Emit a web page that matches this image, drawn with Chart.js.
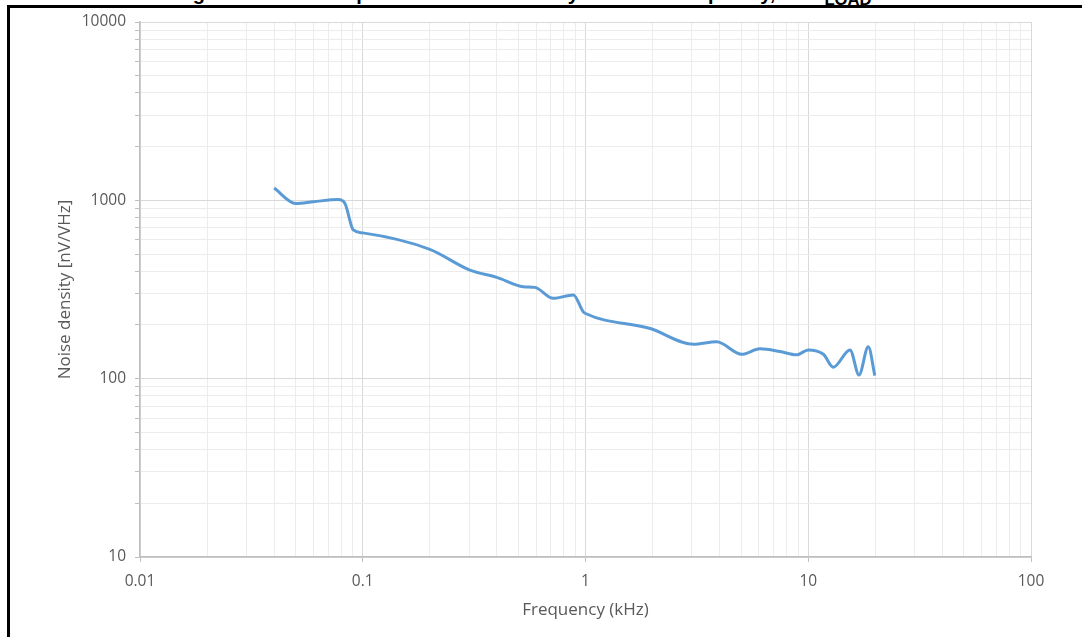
<!DOCTYPE html>
<html>
<head>
<meta charset="utf-8">
<script src="https://cdn.jsdelivr.net/npm/chart.js@4.4.1/dist/chart.umd.min.js"></script>
<style>
  html, body { margin: 0; padding: 0; background: #fff; }
  body { width: 1082px; height: 637px; position: relative; overflow: hidden; }
  #cut { position: absolute; left: 0; top: 0; width: 1082px; height: 5px; overflow: hidden; }
  #cut span { position: absolute; left: 175px; top: -18px; font: bold 20px "Liberation Sans", Arial, sans-serif; word-spacing: 29px; color: #000; white-space: nowrap; }
  #frame { position: absolute; left: 7px; top: 5px; width: 1100px; height: 700px; border-left: 3px solid #000; border-top: 3px solid #000; pointer-events: none; }
  #wrap { position: absolute; left: 0; top: 0; width: 1082px; height: 637px; }
  canvas { display: block; }
</style>
</head>
<body>
<div id="cut"><span>Figure 8. Output noise density vs. frequency, R<sub>LOAD</sub></span></div>
<div id="wrap"><canvas id="noiseChart" width="1082" height="637"></canvas></div>
<div id="frame"></div>
<script>
// dados (kHz, nV/√Hz)
const freqKHz = [0.040, 0.050, 0.060, 0.0777, 0.0832, 0.0907, 0.10, 0.20, 0.303, 0.40, 0.526, 0.593, 0.717, 0.882, 0.977, 1.0, 1.95, 3.05, 3.88, 5.02, 6.07, 7.46, 8.87, 10.0, 11.7, 12.96, 15.4, 16.9, 18.6, 19.9];
const noiseDensity = [1172, 961, 982, 1010, 961, 682, 657, 531, 406, 370, 328, 325, 282, 295, 237, 232, 191, 156, 161, 137, 147, 142, 136, 145, 137, 116, 145, 105, 151, 104];

const xMajorTicks = [0.01, 0.1, 1, 10, 100];
const xTickLabels = ['0.01', '0.1', '1', '10', '100'];
const yMajorTicks = [10, 100, 1000, 10000];
const yTickLabels = ['10', '100', '1000', '10000'];
const minorSteps = [2, 3, 4, 5, 6, 7, 8, 9];

// monta a lista de ticks (década + subdivisões)
function logTicks(majors) {
    const ticks = [];
    majors.forEach((m, i) => {
        ticks.push({ value: m, major: true });
        if (i < majors.length - 1) {
            minorSteps.forEach(s => ticks.push({ value: m * s, major: false }));
        }
    });
    return ticks;
}

function labelFor(value, majors, labels) {
    const idx = majors.findIndex(m => Math.abs(m - value) / m < 1e-6);
    return idx >= 0 ? labels[idx] : '';
}

const tickFont = { family: "'Open Sans', 'Liberation Sans', sans-serif", size: 15.5 };
const titleFont = { family: "'Open Sans', 'Liberation Sans', sans-serif", size: 17 };
const textColor = '#595959';

const points = freqKHz.map((f, i) => ({ x: f, y: noiseDensity[i] }));

new Chart(document.getElementById('noiseChart'), {
    type: 'line',
    data: {
        datasets: [{
            data: points,
            borderColor: '#5b9bd5',
            borderWidth: 3,
            pointRadius: 0,
            fill: false,
            cubicInterpolationMode: 'monotone'
        }]
    },
    options: {
        responsive: false,
        animation: false,
        layout: { padding: { left: 51, right: 51, top: 22, bottom: 0 } },
        plugins: { legend: { display: false }, tooltip: { enabled: false } },
        scales: {
            x: {
                type: 'logarithmic',
                min: 0.01,
                max: 100,
                afterBuildTicks: scale => { scale.ticks = logTicks(xMajorTicks); },
                afterFit: scale => { scale.height = 80; },
                ticks: {
                    autoSkip: false,
                    maxRotation: 0,
                    padding: 10,
                    color: textColor,
                    font: tickFont,
                    callback: value => labelFor(value, xMajorTicks, xTickLabels)
                },
                grid: {
                    color: ctx => (ctx.tick && ctx.tick.major ? '#d9d9d9' : '#ececec'),
                    tickColor: ctx => (ctx.tick && ctx.tick.major ? '#bfbfbf' : 'rgba(0,0,0,0)'),
                    tickLength: 5,
                    lineWidth: 1
                },
                border: { color: '#bfbfbf', width: 1.5 },
                title: {
                    display: true,
                    text: 'Frequency (kHz)',
                    color: textColor,
                    font: titleFont,
                    padding: { top: 4, bottom: 17 }
                }
            },
            y: {
                type: 'logarithmic',
                min: 10,
                max: 10000,
                afterBuildTicks: scale => { scale.ticks = logTicks(yMajorTicks); },
                afterFit: scale => { scale.width = 89; },
                ticks: {
                    autoSkip: false,
                    padding: 9,
                    color: textColor,
                    font: tickFont,
                    callback: value => labelFor(value, yMajorTicks, yTickLabels)
                },
                grid: {
                    color: ctx => (ctx.tick && ctx.tick.major ? '#d9d9d9' : '#ececec'),
                    tickColor: '#bfbfbf',
                    tickLength: 5,
                    lineWidth: 1
                },
                border: { color: '#bfbfbf', width: 1.5 },
                title: {
                    display: true,
                    text: 'Noise density [nV/VHz]',
                    color: textColor,
                    font: titleFont,
                    padding: { top: 4, bottom: 0 }
                }
            }
        }
    }
});
</script>
</body>
</html>
